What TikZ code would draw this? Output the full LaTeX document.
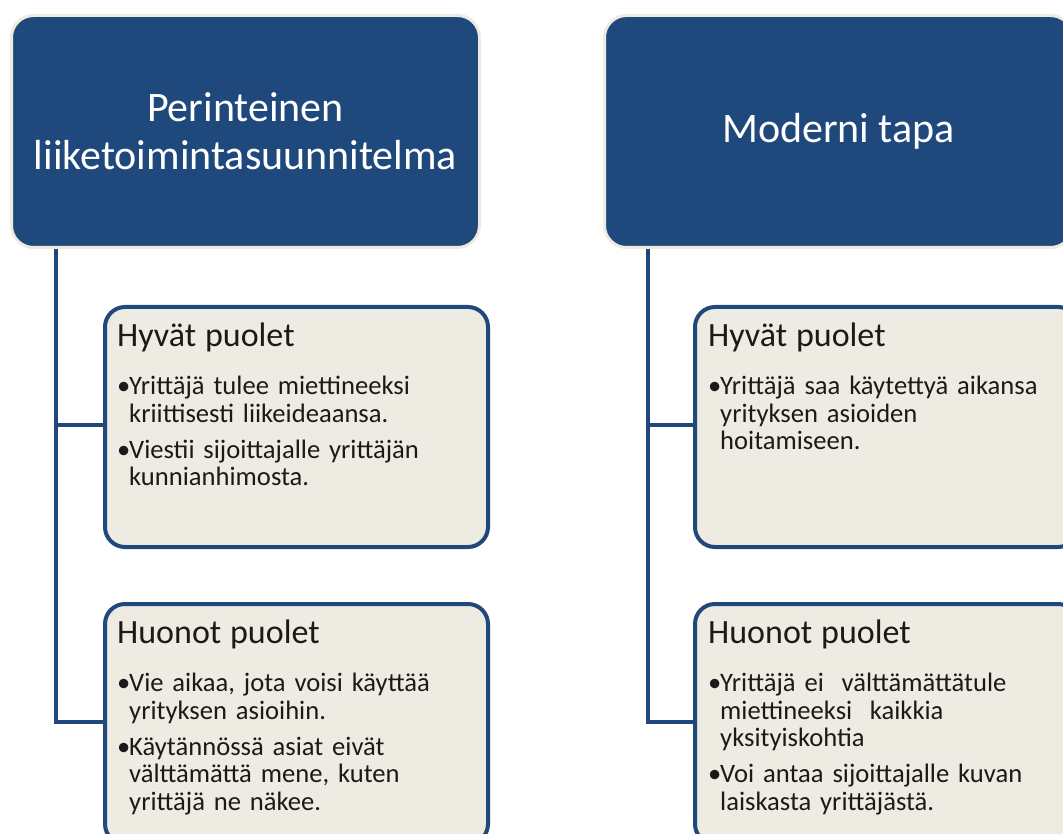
\documentclass[tikz,border=0pt]{standalone}
\usepackage{fontspec}
\setmainfont{Carlito}
\definecolor{navy}{HTML}{1F497D}
\definecolor{beige}{HTML}{EEEBE2}
\definecolor{rim}{HTML}{EEECE1}
\definecolor{ink}{HTML}{1A1A1A}
\lineskiplimit=-30pt
\hyphenpenalty=10000
\newcommand{\bitem}[1]{\par\hangindent=12pt\hangafter=1\noindent\makebox[12pt][l]{•}#1\par}
\newcommand{\hd}[1]{{\fontsize{34}{40}\selectfont #1}\par\vspace{20.5pt}}
\newcommand{\gapx}{\vspace{8.5pt}}
\tikzset{
  titlebox/.style={draw=rim, line width=3pt, fill=navy, rounded corners=22pt,
    anchor=north west, minimum width=468pt, minimum height=232pt, inner sep=0pt,
    text=white, align=center, font=\fontsize{42}{48}\selectfont},
  subbox/.style={draw=navy, line width=4pt, fill=beige, rounded corners=20pt,
    anchor=north west, minimum width=383pt, minimum height=240pt, inner sep=0pt},
  subtext/.style={anchor=north west, inner sep=0pt, text width=350pt, align=left,
    text=ink, font=\fontsize{26.6}{27.5}\selectfont},
  link/.style={draw=navy, line width=4pt}
}
\begin{document}
\begin{tikzpicture}[x=1pt,y=-1pt]
\useasboundingbox (0,0) rectangle (1063,834);
\clip (0,0) rectangle (1063,834);
% left column
\node[titlebox] (t1) at (10,14) {Perinteinen\\liiketoimintasuunnitelma};
\node[subbox] (h1) at (103,305) {};
\node[subbox] (n1) at (103,602) {};
\coordinate (c1) at (56,722);
\draw[link] (t1.south west -| 56,0) -- (c1) -- (n1.west |- c1);
\draw[link] (56,425) -- (h1.west |- 0,425);
\node[subtext] (h1t) at (117,323) {\hd{Hyvät puolet}
 \bitem{Yrittäjä tulee miettineeksi\newline kriittisesti liikeideaansa.}\gapx
 \bitem{Viestii sijoittajalle yrittäjän\newline kunnianhimosta.}};
\node[subtext] (n1t) at (117,620) {\hd{Huonot puolet}
 \bitem{Vie aikaa, jota voisi käyttää\newline yrityksen asioihin.}\gapx
 \bitem{Käytännössä asiat eivät\newline välttämättä mene, kuten\newline yrittäjä ne näkee.}};
% right column
\node[titlebox] (t2) at (603,14) {Moderni tapa};
\node[subbox] (h2) at (693,305) {};
\node[subbox] (n2) at (693,602) {};
\coordinate (c2) at (648,722);
\draw[link] (t2.south west -| 648,0) -- (c2) -- (n2.west |- c2);
\draw[link] (648,425) -- (h2.west |- 0,425);
\node[subtext] (h2t) at (708,323) {\hd{Hyvät puolet}
 \bitem{Yrittäjä saa käytettyä aikansa\newline yrityksen asioiden\newline hoitamiseen.}};
\node[subtext] (n2t) at (708,620) {\hd{Huonot puolet}
 \bitem{Yrittäjä ei\ \ välttämättätule\newline miettineeksi\ \ kaikkia\newline yksityiskohtia}\gapx
 \bitem{Voi antaa sijoittajalle kuvan\newline laiskasta yrittäjästä.}};
\end{tikzpicture}
\end{document}
